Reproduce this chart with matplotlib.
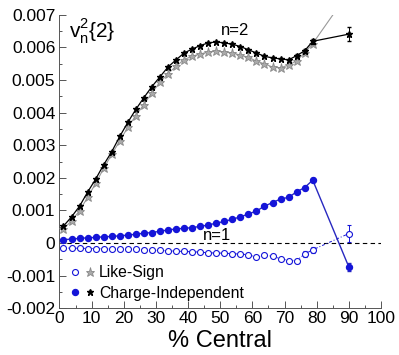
import numpy as np
import matplotlib
matplotlib.use('Agg')
import matplotlib.pyplot as plt
from matplotlib.ticker import MultipleLocator, FixedLocator, FixedFormatter
from matplotlib.legend_handler import HandlerTuple

plt.rcParams['font.family'] = ['Liberation Sans', 'DejaVu Sans']
plt.rcParams['mathtext.fontset'] = 'custom'
plt.rcParams['mathtext.rm'] = 'Liberation Sans'

# centrality bins (2.5% wide up to 80%, then one 80-100% bin)
cent = [1.25 + 2.5 * k for k in range(32)] + [90]

# n=2, charge-independent (black stars)
v2_ci = [0.00052, 0.00080, 0.00113, 0.00156, 0.00196, 0.00240, 0.00280, 0.00327,
         0.00370, 0.00410, 0.00446, 0.00480, 0.00510, 0.00540, 0.00562, 0.00583,
         0.00595, 0.00606, 0.00614, 0.00617, 0.00614, 0.00610, 0.00603, 0.00593,
         0.00583, 0.00573, 0.00568, 0.00565, 0.00562, 0.00575, 0.00590, 0.00619,
         0.00641]
v2_ci_err = [0] * 29 + [0.00005, 0.00006, 0.00008, 0.00022]

# n=2, like-sign (gray stars); last point is above the plot range
v2_ls = [0.00043, 0.00068, 0.00099, 0.00140, 0.00183, 0.00229, 0.00272, 0.00313,
         0.00355, 0.00391, 0.00425, 0.00461, 0.00493, 0.00520, 0.00542, 0.00563,
         0.00573, 0.00580, 0.00586, 0.00589, 0.00586, 0.00584, 0.00576, 0.00570,
         0.00558, 0.00550, 0.00540, 0.00538, 0.00546, 0.00559, 0.00584, 0.00612,
         0.00770]

# n=1, charge-independent (filled blue circles)
v1_ci = [0.00010, 0.00012, 0.00014, 0.00016, 0.00017, 0.00019, 0.00020, 0.00022,
         0.00024, 0.00027, 0.00030, 0.00032, 0.00036, 0.00040, 0.00043, 0.00045,
         0.00047, 0.00051, 0.00055, 0.00061, 0.00066, 0.00073, 0.00080, 0.00089,
         0.00098, 0.00113, 0.00124, 0.00135, 0.00140, 0.00157, 0.00170, 0.00193,
         -0.00074]
v1_ci_err = [0] * 28 + [0.00004, 0.00005, 0.00006, 0.00007, 0.00012]

# n=1, like-sign (open blue circles)
v1_ls = [-0.00015, -0.00016, -0.00016, -0.00017, -0.00017, -0.00018, -0.00018, -0.00019,
         -0.00020, -0.00020, -0.00021, -0.00022, -0.00023, -0.00024, -0.00025, -0.00026,
         -0.00027, -0.00028, -0.00030, -0.00031, -0.00031, -0.00033, -0.00034, -0.00036,
         -0.00044, -0.00037, -0.00041, -0.00048, -0.00054, -0.00054, -0.00034, -0.00021,
         0.00029]
v1_ls_err = [0] * 28 + [0.00005, 0.00006, 0.00008, 0.00009, 0.00025]

yticks = [-0.002, -0.001, 0, 0.001, 0.002, 0.003, 0.004, 0.005, 0.006, 0.007]
ylabels = ['-0.002', '-0.001', '0', '0.001', '0.002', '0.003', '0.004', '0.005', '0.006', '0.007']
xticks = [0, 10, 20, 30, 40, 50, 60, 70, 80, 90, 100]

blue = '#1414d8'

fig = plt.figure(figsize=(3.99, 3.55), dpi=100)
ax = fig.add_axes([0.149, 0.132, 0.806, 0.826])

ax.axhline(0, color='k', lw=0.8, ls=(0, (4, 3)), zorder=1)

# n=2
ax.plot(cent, v2_ls, color='#999999', lw=0.8, marker='*', ms=6.5,
        mfc='#aaaaaa', mec='#888888', mew=0.6, zorder=3, clip_on=True)
ax.errorbar(cent, v2_ci, yerr=v2_ci_err, color='k', lw=0.9, marker='*', ms=4.8,
            mfc='k', mec='k', elinewidth=0.7, capsize=1.5, zorder=4)

# n=1
ax.errorbar(cent, v1_ls, yerr=v1_ls_err, color=blue, lw=0.7, ls=(0, (3, 2, 1, 2)),
            marker='o', ms=4.3, mfc='white', mec=blue, mew=0.8,
            elinewidth=0.7, capsize=1.5, zorder=3)
ax.errorbar(cent, v1_ci, yerr=v1_ci_err, color='#2828c0', lw=1.0, marker='o', ms=4.3,
            mfc=blue, mec=blue, elinewidth=0.7, capsize=1.5, zorder=4)

ax.set_xlim(0, 100)
ax.set_ylim(-0.002, 0.007)
ax.yaxis.set_major_locator(FixedLocator(yticks))
ax.yaxis.set_major_formatter(FixedFormatter(ylabels))
ax.yaxis.set_minor_locator(MultipleLocator(0.0005))
ax.set_xticks(xticks)
ax.xaxis.set_minor_locator(MultipleLocator(5))
ax.tick_params(which='both', direction='in', labelsize=12.5, color='#555555', width=0.7)
ax.tick_params(which='major', length=5)
ax.tick_params(which='minor', length=2.5)
ax.tick_params(axis='y', pad=3)
ax.tick_params(axis='x', pad=2)
for s in ['top', 'right']:
    ax.spines[s].set_visible(False)
for s in ['left', 'bottom']:
    ax.spines[s].set_color('#555555')
    ax.spines[s].set_linewidth(0.7)

ax.set_xlabel('% Central', fontsize=17, labelpad=3)

ax.text(3, 0.0065, r'$\mathrm{v}_\mathrm{n}^2\{2\}$', fontsize=15, va='center', ha='left')
ax.text(54.5, 0.00652, 'n=2', fontsize=12, ha='center', va='center')
ax.text(49, 0.00022, 'n=1', fontsize=12, ha='center', va='center')

h_ls_c, = ax.plot([], [], ls='none', marker='o', ms=4.3, mfc='white', mec=blue, mew=0.8)
h_ls_s, = ax.plot([], [], ls='none', marker='*', ms=6.5, mfc='#aaaaaa', mec='#888888', mew=0.6)
h_ci_c, = ax.plot([], [], ls='none', marker='o', ms=4.3, mfc=blue, mec=blue)
h_ci_s, = ax.plot([], [], ls='none', marker='*', ms=5, mfc='k', mec='k')
ax.legend([(h_ls_c, h_ls_s), (h_ci_c, h_ci_s)], ['Like-Sign', 'Charge-Independent'],
          handler_map={tuple: HandlerTuple(ndivide=None, pad=0.5)},
          loc='lower left', bbox_to_anchor=(0.035, 0.025), frameon=False,
          fontsize=11.3, handlelength=1.5, handletextpad=0.3, labelspacing=0.35,
          borderaxespad=0, borderpad=0)

fig.savefig('out.png', dpi=100)
